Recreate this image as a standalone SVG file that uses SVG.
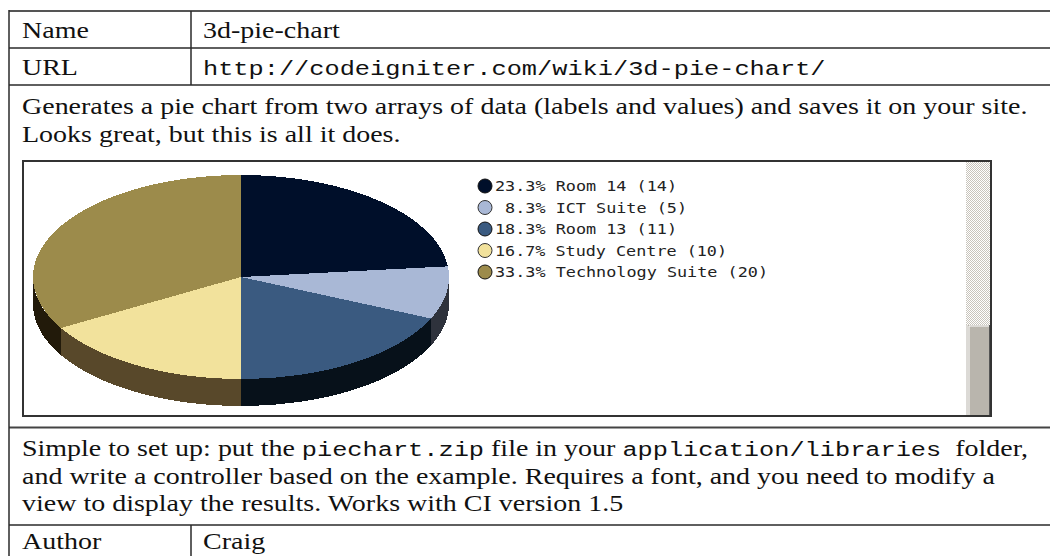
<svg xmlns="http://www.w3.org/2000/svg" width="1050" height="556" viewBox="0 0 1050 556">
<style>
.t{font-family:"Liberation Serif",serif;font-size:23px;fill:#111;white-space:pre}
.m{font-family:"Liberation Mono",monospace;font-size:20.8px;fill:#111}
.lg{font-family:"DejaVu Sans Mono",monospace;font-size:14px;fill:#222;white-space:pre}
.ln{stroke:#2a2a2a;stroke-width:1.5;fill:none}
.dot{stroke-width:1}
</style>
<defs>
<pattern id="dither" width="2" height="2" patternUnits="userSpaceOnUse">
<rect width="2" height="2" fill="#ffffff"/>
<rect width="1" height="1" fill="#c8c4bc"/>
<rect x="1" y="1" width="1" height="1" fill="#c8c4bc"/>
</pattern>
</defs>
<rect width="1050" height="556" fill="#ffffff"/>

<g id="table">
<line x1="9" y1="11" x2="1050" y2="11" stroke="#555" stroke-width="2"/>
<line class="ln" x1="9" y1="48" x2="1050" y2="48"/>
<line class="ln" x1="9" y1="85" x2="1050" y2="85"/>
<line x1="9" y1="427.5" x2="1050" y2="427.5" stroke="#444" stroke-width="2"/>
<line class="ln" x1="9" y1="525" x2="1050" y2="525"/>
<line class="ln" x1="9" y1="10" x2="9" y2="556"/>
<line class="ln" x1="191" y1="11" x2="191" y2="85"/>
<line class="ln" x1="191" y1="525" x2="191" y2="556"/>
</g>

<g id="row-name">
<text class="t" transform="translate(22,38) scale(1.217,1)">Name</text>
<text class="t" transform="translate(203,38) scale(1.217,1)">3d-pie-chart</text>
</g>
<g id="row-url">
<text class="t" transform="translate(22,75) scale(1.217,1)">URL</text>
<text class="m" transform="translate(203,75) scale(1.217,1)">http://codeigniter.com/wiki/3d-pie-chart/</text>
</g>
<g id="row-desc">
<text class="t" transform="translate(22,114) scale(1.217,1)">Generates a pie chart from two arrays of data (labels and values) and saves it on your site.</text>
<text class="t" transform="translate(22,142) scale(1.217,1)">Looks great, but this is all it does.</text>
</g>

<g id="chart">
<rect x="23" y="161" width="968" height="255" fill="#ffffff" stroke="#333" stroke-width="2"/>
<g id="pie" shape-rendering="crispEdges">
<path d="M447.86,266.34 A208,102 0 0,1 449,277 L449,304 A208,102 0 0,0 447.86,293.34 Z" fill="#000510"/>
<path d="M449,277 A208,102 0 0,1 431.02,318.49 L431.02,345.49 A208,102 0 0,0 449,304 Z" fill="#2e323c"/>
<path d="M431.02,318.49 A208,102 0 0,1 241,379 L241,406 A208,102 0 0,0 431.02,345.49 Z" fill="#07111a"/>
<path d="M241,379 A208,102 0 0,1 60.87,328 L60.87,355 A208,102 0 0,0 241,406 Z" fill="#58482a"/>
<path d="M60.87,328 A208,102 0 0,1 33,277 L33,304 A208,102 0 0,0 60.87,355 Z" fill="#221a0a"/>
<path d="M241,277 L241,175 A208,102 0 0,1 447.86,266.34 Z" fill="#000f2a"/>
<path d="M241,277 L447.86,266.34 A208,102 0 0,1 431.02,318.49 Z" fill="#a9b8d6"/>
<path d="M241,277 L431.02,318.49 A208,102 0 0,1 241,379 Z" fill="#3a5a80"/>
<path d="M241,277 L241,379 A208,102 0 0,1 60.87,328 Z" fill="#f2e29c"/>
<path d="M241,277 L60.87,328 A208,102 0 0,1 241,175 Z" fill="#9c8b4b"/>
</g>
<g id="legend">
<circle class="dot" cx="485" cy="186" r="7" fill="#000f2a" stroke="#111"/>
<text class="lg" x="495" y="191" textLength="182" lengthAdjust="spacingAndGlyphs">23.3% Room 14 (14)</text>
<circle class="dot" cx="485" cy="207.5" r="7" fill="#a9b8d6" stroke="#333"/>
<text class="lg" x="495" y="212.5" textLength="192" lengthAdjust="spacingAndGlyphs"> 8.3% ICT Suite (5)</text>
<circle class="dot" cx="485" cy="229" r="7" fill="#3a5a80" stroke="#111"/>
<text class="lg" x="495" y="234" textLength="182" lengthAdjust="spacingAndGlyphs">18.3% Room 13 (11)</text>
<circle class="dot" cx="485" cy="250.5" r="7" fill="#f2e29c" stroke="#333"/>
<text class="lg" x="495" y="255.5" textLength="232" lengthAdjust="spacingAndGlyphs">16.7% Study Centre (10)</text>
<circle class="dot" cx="485" cy="272" r="7" fill="#9c8b4b" stroke="#111"/>
<text class="lg" x="495" y="277" textLength="273" lengthAdjust="spacingAndGlyphs">33.3% Technology Suite (20)</text>
</g>
<g id="scrollbar">
<rect x="966" y="162" width="24" height="163" fill="url(#dither)"/>
<rect x="966" y="325" width="24" height="90" fill="#b9b5ad"/>
<line x1="967" y1="325" x2="967" y2="415" stroke="#ffffff" stroke-width="1"/>
<line x1="969" y1="326" x2="969" y2="415" stroke="#ffffff" stroke-width="1"/>
<line x1="969" y1="326" x2="989" y2="326" stroke="#ffffff" stroke-width="1"/>
<line x1="989.5" y1="325" x2="989.5" y2="415" stroke="#555" stroke-width="1"/>
</g>
</g>

<g id="row-setup">
<text class="t" transform="translate(22,456) scale(1.217,1)">Simple to set up: put the <tspan class="m">piechart.zip</tspan> file in your <tspan class="m">application/libraries</tspan>  folder,</text>
<text class="t" transform="translate(22,484) scale(1.217,1)">and write a controller based on the example. Requires a font, and you need to modify a</text>
<text class="t" transform="translate(22,511) scale(1.217,1)">view to display the results. Works with CI version 1.5</text>
</g>
<g id="row-author">
<text class="t" transform="translate(22,549) scale(1.217,1)">Author</text>
<text class="t" transform="translate(203,549) scale(1.217,1)">Craig</text>
</g>
</svg>
